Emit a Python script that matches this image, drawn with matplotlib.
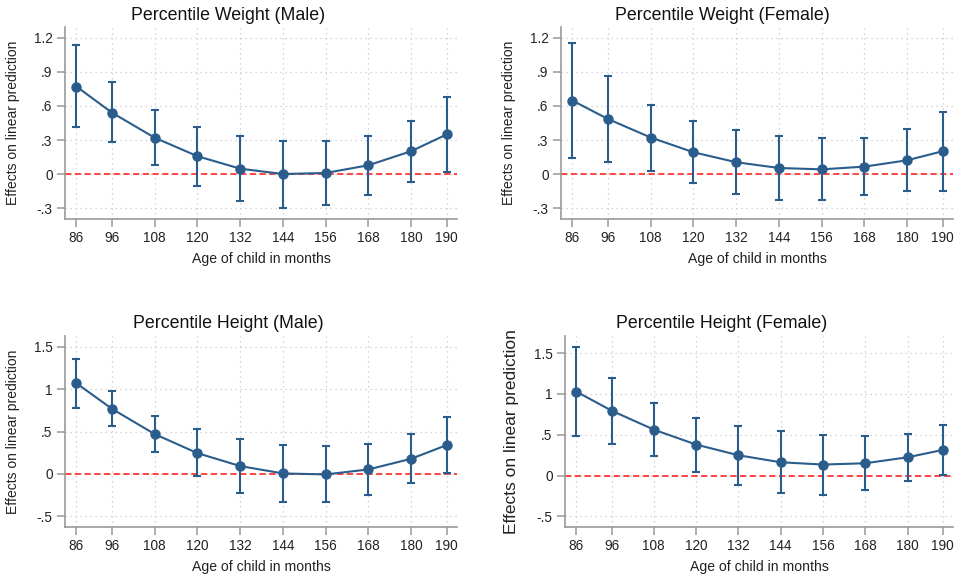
import matplotlib.pyplot as plt

plt.rcParams['font.family'] = ['Liberation Sans', 'DejaVu Sans']

ages = [86, 96, 108, 120, 132, 144, 156, 168, 180, 190]

# point estimates and 95% CI bounds
weight_male = [0.772, 0.541, 0.320, 0.157, 0.047, 0.000, 0.009, 0.077, 0.201, 0.349]
weight_male_lo = [0.417, 0.278, 0.083, -0.107, -0.237, -0.296, -0.272, -0.183, -0.068, 0.015]
weight_male_hi = [1.136, 0.814, 0.562, 0.417, 0.334, 0.293, 0.287, 0.334, 0.470, 0.678]

weight_female = [0.648, 0.485, 0.322, 0.192, 0.104, 0.053, 0.041, 0.065, 0.121, 0.201]
weight_female_lo = [0.145, 0.104, 0.030, -0.077, -0.175, -0.231, -0.231, -0.189, -0.151, -0.151]
weight_female_hi = [1.154, 0.861, 0.612, 0.470, 0.388, 0.337, 0.314, 0.320, 0.399, 0.544]

height_male = [1.071, 0.768, 0.469, 0.244, 0.091, 0.004, -0.008, 0.051, 0.177, 0.339]
height_male_lo = [0.780, 0.563, 0.252, -0.031, -0.232, -0.335, -0.339, -0.252, -0.110, 0.008]
height_male_hi = [1.362, 0.976, 0.689, 0.524, 0.417, 0.346, 0.323, 0.354, 0.469, 0.669]

height_female = [1.029, 0.796, 0.563, 0.380, 0.249, 0.163, 0.135, 0.151, 0.224, 0.314]
height_female_lo = [0.482, 0.388, 0.237, 0.045, -0.114, -0.216, -0.233, -0.176, -0.069, 0.012]
height_female_hi = [1.571, 1.200, 0.890, 0.710, 0.608, 0.543, 0.494, 0.482, 0.510, 0.624]

weight_ticks = [-0.3, 0, 0.3, 0.6, 0.9, 1.2]
weight_labels = ['-.3', '0', '.3', '.6', '.9', '1.2']
height_ticks = [-0.5, 0, 0.5, 1, 1.5]
height_labels = ['-.5', '0', '.5', '1', '1.5']

navy = '#2a5d8c'
W, H = 957, 581

fig = plt.figure(figsize=(9.57, 5.81), dpi=100)

panels = [
    # title, est, lo, hi, yticks, ylabels, ylim, box (l, t, r, b px), title center px,
    # ylabel size, ylabel right edge px
    ('Percentile Weight (Male)', weight_male, weight_male_lo, weight_male_hi,
     weight_ticks, weight_labels, (-0.397, 1.297), (65, 27, 457, 219), (228, 15), 10, 20),
    ('Percentile Weight (Female)', weight_female, weight_female_lo, weight_female_hi,
     weight_ticks, weight_labels, (-0.397, 1.297), (561, 27, 953, 219), (722, 15), 10, 516),
    ('Percentile Height (Male)', height_male, height_male_lo, height_male_hi,
     height_ticks, height_labels, (-0.63, 1.63), (65, 336, 457, 527), (228, 323), 10, 20),
    ('Percentile Height (Female)', height_female, height_female_lo, height_female_hi,
     height_ticks, height_labels, (-0.63, 1.71), (565, 336, 953, 527), (722, 323), 12.5, 519),
]

for title, est, lo, hi, yt, yl, ylim, box, tpos, ylsize, ylx in panels:
    l, t, r, b = box
    ax = fig.add_axes([l / W, 1 - b / H, (r - l) / W, (b - t) / H])
    err = [[e - a for e, a in zip(est, lo)], [c - e for e, c in zip(est, hi)]]
    ax.axhline(0, color='#ff4444', lw=1.4, ls=(0, (3.2, 1.8)), zorder=2)
    ax.errorbar(ages, est, yerr=err, color=navy, lw=1.5, marker='o', ms=6.5,
                capsize=2.6, capthick=1.5, elinewidth=1.5, zorder=3)
    ax.set_xlim(82.8, 192.9)
    ax.set_ylim(*ylim)
    ax.set_xticks(ages)
    ax.set_yticks(yt)
    ax.set_yticklabels(yl)
    ax.grid(True, color='#c8c8c8', lw=0.9, ls=(0, (1, 3)))
    ax.set_axisbelow(True)
    for s in ['top', 'right']:
        ax.spines[s].set_visible(False)
    for s in ['left', 'bottom']:
        ax.spines[s].set_color('#999999')
        ax.spines[s].set_linewidth(1.2)
    ax.tick_params(colors='#999999', labelcolor='#222222', labelsize=9.8,
                   length=5.5, width=1.1, pad=3.5)
    ax.set_xlabel('Age of child in months', fontsize=10.1, color='#222222', labelpad=5)
    ax.set_ylabel('Effects on linear prediction', fontsize=ylsize, color='#222222')
    ax.yaxis.set_label_coords(-(l - ylx) / (r - l), 0.5)
    fig.text(tpos[0] / W, 1 - tpos[1] / H, title, fontsize=12.8, ha='center', va='center',
             color='#111111')

fig.savefig('out.png', dpi=100, facecolor='white')
